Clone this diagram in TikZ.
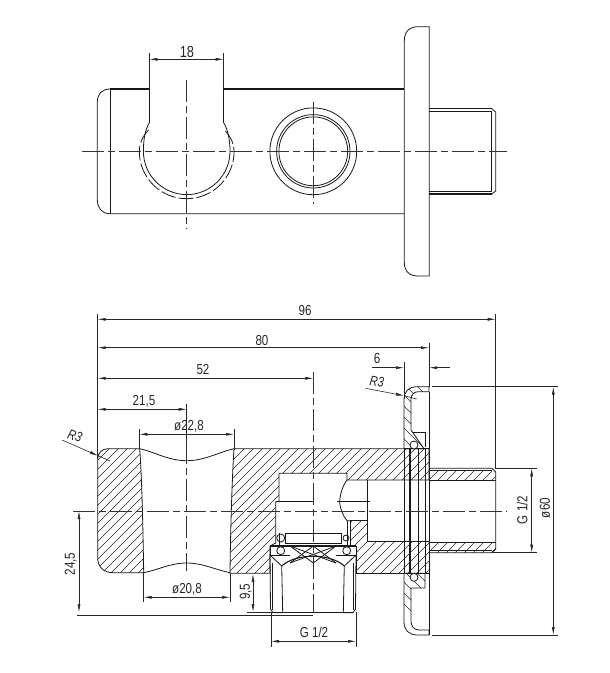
\documentclass[tikz,border=0pt]{standalone}
\usepackage{fontspec}
\usetikzlibrary{arrows.meta}
\newfontfamily\dimfont[FakeStretch=0.8]{Liberation Sans}
\newfontfamily\dimitalic[FakeStretch=0.8]{Liberation Sans Italic}

\tikzset{
    outline/.style={draw=black!90, line width=0.8pt},
    thickline/.style={draw=black!90, line width=1.1pt},
    hatchline/.style={draw=black!85, line width=0.6pt},
    centerline/.style={draw=black!80, line width=0.6pt, dash pattern=on 22pt off 4pt on 7pt off 4pt},
    dimline/.style={draw=black!85, line width=0.6pt, {Latex[length=8pt,width=3pt]}-{Latex[length=8pt,width=3pt]}},
    dimend/.style={draw=black!85, line width=0.6pt, -{Latex[length=8pt,width=3pt]}},
    extline/.style={draw=black!85, line width=0.6pt},
    dimtext/.style={font=\dimfont\fontsize{14.5}{14.5}\selectfont, inner sep=0pt, text=black!85},
    radtext/.style={font=\dimitalic\fontsize{14}{14}\selectfont, inner sep=0pt, text=black!85},
}

% hatching: region, spacing; rising and falling
\newcommand{\hatchup}[2]{\begin{scope}\clip #1;
    \foreach \i [evaluate=\i as \k using -700+\i*#2] in {0,...,150} { \path[hatchline] (\k,700) -- (\k+700,0); }
\end{scope}}
\newcommand{\hatchdown}[2]{\begin{scope}\clip #1;
    \foreach \i [evaluate=\i as \k using -200+\i*#2] in {0,...,110} { \path[hatchline] (\k,0) -- (\k+700,700); }
\end{scope}}

\newcommand{\blockleft}{(139.7,448.7) -- (108,448.7) .. controls (102,448.7) and (97.7,453) .. (97.7,459) -- (97.7,558) .. controls (97.7,567) and (104,572.7) .. (113,572.7) -- (143.7,572.7) .. controls (143,530) and (142,480) .. (139.7,448.7) -- cycle}
\newcommand{\blockmain}{(234,448.7) -- (429,448.7) -- (429,480) -- (347,480) -- (347,473.3) -- (279,473.3) -- (279,501.7) -- (275.7,501.7) -- (275.7,543) -- (270,546) -- (270,573.3) -- (230,573.3) .. controls (230.5,530) and (232,480) .. (234,448.7) -- cycle}
\newcommand{\blocklower}{(350.7,520.7) -- (367,520.7) -- (367,541.7) -- (429,541.7) -- (429,573.3) -- (356,573.3) -- (356,546) -- (350.7,546) -- cycle}
\newcommand{\threadtop}{(429,470.7) -- (492,470.7) -- (495.7,474) -- (495.7,480) -- (429,480) -- cycle}
\newcommand{\threadlow}{(429,542) -- (495.7,542) -- (495.7,549) -- (492,552.7) -- (429,552.7) -- cycle}
\newcommand{\wallleft}{(270,555) -- (281.7,566) -- (282.7,612.7) -- (273,612.7) -- (270.5,609) -- cycle}
\newcommand{\wallright}{(356,555) -- (344.3,566) -- (343.3,612.7) -- (353,612.7) -- (355.5,609) -- cycle}
\newcommand{\shelltop}{(429,386.7) -- (416,386.7) .. controls (409,386.7) and (404,392) .. (404,399) -- (404,448.7) -- (424,448.7) -- (411,430) -- (411,399) .. controls (411,395) and (414,391.7) .. (418,391.7) -- (429,391.7) -- cycle}
\newcommand{\shelllow}{(404,573.3) -- (404,622) .. controls (404,630) and (409,635) .. (417,635) -- (429,635) -- (429,630) -- (419,630) .. controls (414,630) and (411,626) .. (411,621) -- (411,588) -- (425,588) -- (425,573.3) -- cycle}

\begin{document}
\begin{tikzpicture}[x=1pt, y=-1pt]
    \useasboundingbox (0,0) rectangle (610,673);

    % top view
    \draw[outline] (110,89) -- (110,213.7);
    \draw[outline] (110,89) .. controls (102,89) and (97.3,94) .. (97.3,102) -- (97.3,200) .. controls (97.3,208) and (102,213.7) .. (110,213.7) -- (404.3,213.7);
    \draw[thickline] (110,89) -- (149.3,89) -- (149.3,122.7);
    \draw[thickline] (404.3,89) -- (223.7,89) -- (223.7,122.7);
    \draw[outline] (149.3,122.7) .. controls (145,130) and (143.4,140) .. (143.4,151.3) arc[start angle=180, end angle=0, radius=43.3] .. controls (230,140) and (228,130) .. (223.7,122.7);
    \draw[outline, dash pattern=on 15pt off 3pt] (148.5,130) .. controls (142,137) and (139.3,144) .. (139.3,151.3) arc[start angle=180, end angle=0, radius=47.4] .. controls (234,144) and (231,137) .. (224.5,130);
    \draw[outline] (313.3,151.3) circle[radius=43.4];
    \draw[outline] (313.3,151.3) circle[radius=36.7];
    \draw[outline] (313.3,151.3) circle[radius=34.4];

    % plate and connector
    \draw[outline] (429.3,26.7) -- (418,26.7) .. controls (409,26.7) and (404.3,32) .. (404.3,41) -- (404.3,262) .. controls (404.3,271) and (409,276) .. (418,276) -- (429.3,276) -- cycle;
    \draw[thickline] (429.3,108.7) -- (491.7,108.7);
    \draw[thickline] (429.3,194) -- (491.7,194);
    \draw[outline] (429.3,111.7) -- (491.7,111.7) -- (491.7,191) -- (429.3,191);
    \draw[outline] (491.7,108.7) -- (495.7,112) -- (495.7,191) -- (491.7,194);

    \draw[centerline] (82,151.3) -- (507,151.3);
    \draw[centerline] (186.7,80) -- (186.7,229);
    \draw[centerline] (313.3,102) -- (313.3,204);

    \draw[extline] (149.3,53) -- (149.3,89);
    \draw[extline] (223.7,53) -- (223.7,89);
    \draw[dimline] (149.3,59.3) -- (223.7,59.3);
    \node[dimtext, font=\dimfont\fontsize{16}{16}\selectfont] (w18) at (187,52) {18};

    % section
    \hatchup{\blockleft}{9}
    \hatchup{\blockmain}{9}
    \hatchup{\blocklower}{9}
    \hatchup{\threadtop}{9}
    \hatchup{\threadlow}{9}
    \hatchdown{\wallleft}{9}
    \hatchdown{\wallright}{9}
    \hatchdown{\shelltop}{11}
    \hatchdown{\shelllow}{11}

    \draw[outline] \blockleft;
    \draw[outline] \blockmain;
    \draw[outline] \blocklower;
    \draw[outline] \wallleft;
    \draw[outline] \wallright;
    \draw[outline] \shelltop;
    \draw[outline] \shelllow;

    % hole walls
    \draw[outline] (139.7,448.7) .. controls (155,452) and (168,460.7) .. (186.7,460.7) .. controls (205,460.7) and (219,452) .. (234,448.7);
    \draw[outline] (143.7,572.7) .. controls (158,570) and (170,563) .. (186.7,563) .. controls (203,563) and (216,570) .. (230,572.7);

    % bore
    \draw[outline] (347,480) .. controls (341,488) and (339,500) .. (340,505) .. controls (341,510) and (343,516) .. (347,520.7) -- (350.7,520.7);
    \draw[outline] (347,520.7) -- (347,546);
    \draw[outline] (276,501.7) -- (313,501.7);
    \draw[outline] (337,501.7) -- (370,501.7);
    \draw[outline] (367,480) -- (367,520.7);

    % connector section
    \draw[outline] (429,468.3) -- (492,468.3) -- (495.7,472) -- (495.7,549) -- (492,552.7) -- (429,552.7);
    \draw[outline] (429,470.7) -- (492,470.7);
    \draw[outline] (429,550.7) -- (492,550.7);
    \draw[outline] (429,480) -- (495.7,480);
    \draw[outline] (429,542) -- (495.7,542);

    % plate layers
    \draw[outline] (404,448.7) -- (404,573.3);
    \draw[thickline] (410,448.7) -- (410,573.3);
    \draw[thickline] (418.3,448.7) -- (418.3,573.3);
    \draw[outline] (425,448.7) -- (425,573.3);
    \draw[outline] (429,392) -- (429,635);
    \draw[thickline] (404,448.7) -- (429,448.7);
    \draw[thickline] (404,573.3) -- (429,573.3);
    \draw[outline] (413,432.7) -- (425.7,432.7) -- (425.7,447);
    \draw[outline, fill=white] (414,445) circle[radius=4];
    \draw[outline, fill=white] (414,577.3) circle[radius=4];

    % fitting
    \draw[thickline] (270,546) -- (356,546);
    \draw[outline] (270,546) -- (270,555) -- (290,555);
    \draw[outline] (336,555) -- (356,555) -- (356,546);
    \draw[outline] (285,533.3) -- (341.7,533.3);
    \draw[thickline] (285,543.3) -- (341.7,543.3);
    \draw[outline] (285,533.3) -- (285,543.3);
    \draw[outline] (341.7,533.3) -- (341.7,543.3);
    \draw[outline] (279,533.3) -- (279,546);
    \draw[outline] (290,546) -- (336,563);
    \draw[outline] (336,546) -- (290,563);
    \draw[outline] (290,546) -- (313.3,563);
    \draw[outline] (336,546) -- (313.3,563);
    \draw[outline] (313.3,546) -- (290,563);
    \draw[outline] (313.3,546) -- (336,563);
    \draw[thickline] (281.7,566) .. controls (296,553) and (330,553) .. (344.3,566);
    \draw[outline] (272.5,563) -- (272.5,610);
    \draw[outline] (353.5,563) -- (353.5,610);
    \draw[thickline] (273,612.7) -- (353,612.7);
    \draw[outline, fill=white] (280.7,550.7) circle[radius=4];
    \draw[outline, fill=white] (346.7,550.7) circle[radius=4];
    \draw[outline] (280.7,538) circle[radius=4];
    \draw[outline] (346,538) circle[radius=3];

    \draw[centerline] (73,511) -- (506.7,511);
    \draw[centerline] (186.7,442) -- (186.7,571);
    \draw[centerline] (313.3,372) -- (313.3,612);

    % dimensions above
    \draw[extline] (97.7,314) -- (97.7,459);
    \draw[extline] (495.7,314) -- (495.7,468);
    \draw[extline] (429,342.7) -- (429,387);
    \draw[extline] (404,362) -- (404,399);
    \draw[extline] (186.7,404) -- (186.7,442);
    \draw[extline] (139.3,429) -- (139.3,448.7);
    \draw[extline] (234,429) -- (234,448.7);

    \draw[dimline] (97.7,319.3) -- (495.7,319.3);
    \node[dimtext] (l96) at (305,311) {96};
    \draw[dimline] (97.7,347.7) -- (429,347.7);
    \node[dimtext] (l80) at (262,341) {80};
    \draw[dimline] (97.7,378.3) -- (313.3,378.3);
    \node[dimtext] (l52) at (203,370) {52};
    \draw[dimline] (97.7,409.3) -- (186.7,409.3);
    \node[dimtext] (l215) at (144,401) {21,5};
    \draw[dimline] (139.3,434.3) -- (234,434.3);
    \node[dimtext] (d228) at (189,426.5) {ø22,8};

    \draw[dimend] (371.7,367.7) -- (404,367.7);
    \draw[dimend] (450,367.7) -- (429,367.7);
    \node[dimtext] (p6) at (377,359) {6};

    % radii
    \draw[dimend] (62,440) -- (98,455.7);
    \draw[extline] (98,455.7) -- (110,461);
    \node[radtext, rotate=-18] (r3a) at (75,436) {R3};
    \draw[dimend] (365.7,388.3) -- (404,395.7);
    \draw[extline] (404,395.7) -- (416.7,399);
    \node[radtext, rotate=-8] (r3b) at (377,382) {R3};

    % dimensions right
    \draw[extline] (431.7,386.7) -- (558.3,386.7);
    \draw[extline] (431.7,635) -- (558.3,635);
    \draw[dimline] (553.3,386.7) -- (553.3,635);
    \node[dimtext, rotate=90] (d60) at (545,508) {ø60};
    \draw[extline] (495,468.3) -- (537,468.3);
    \draw[extline] (493,552.7) -- (536.7,552.7);
    \draw[dimline] (531.7,468.3) -- (531.7,552.7);
    \node[dimtext, rotate=90] (g12a) at (522.3,510) {G 1/2};

    % dimensions below
    \draw[extline] (77,615.7) -- (313,615.7);
    \draw[dimline] (79,511) -- (79,612.3);
    \node[dimtext, rotate=90] (h245) at (70.7,564) {24,5};
    \draw[extline] (247,612.7) -- (273,612.7);
    \draw[dimline] (253,574) -- (253,612);
    \node[dimtext, rotate=90] (h95) at (245.7,591.7) {9,5};
    \draw[extline] (143.7,573) -- (143.7,602);
    \draw[extline] (230,573) -- (230,602);
    \draw[dimline] (143.7,597.3) -- (230,597.3);
    \node[dimtext] (d208) at (187,589) {ø20,8};
    \draw[extline] (271,612) -- (271,646.7);
    \draw[extline] (356,612) -- (356,646.7);
    \draw[dimline] (271,641.3) -- (356,641.3);
    \node[dimtext] (g12b) at (314,632) {G 1/2};
\end{tikzpicture}
\end{document}
